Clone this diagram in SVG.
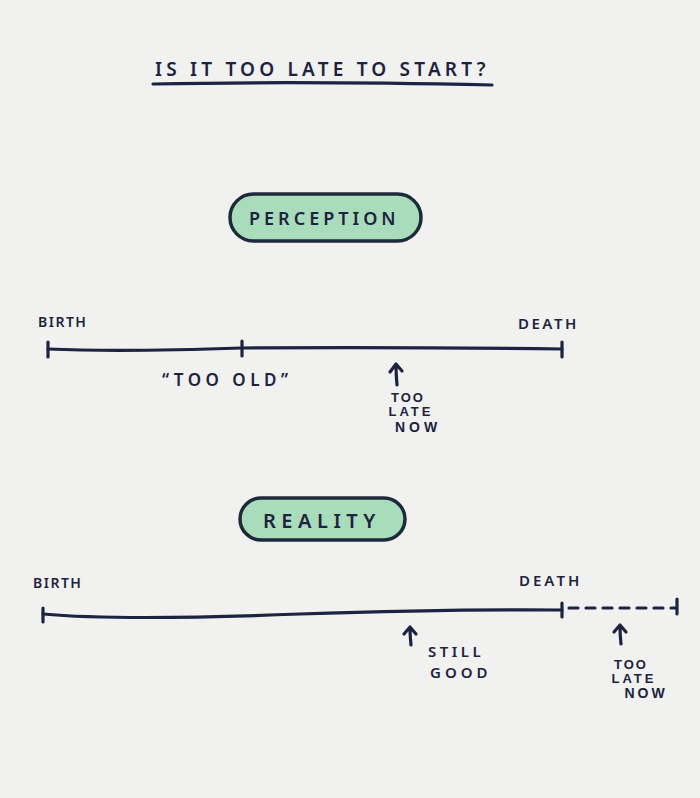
<svg xmlns="http://www.w3.org/2000/svg" width="700" height="798" viewBox="0 0 700 798">
<defs>
<style>
.t{font-family:"Noto Sans","DejaVu Sans",sans-serif;fill:#1d2340;font-weight:600}
.s{font-family:"Liberation Sans",Arial,sans-serif;fill:#1d2340;font-weight:bold;text-anchor:middle}
.ln{stroke:#1d2340;stroke-width:3.2;fill:none;stroke-linecap:round;stroke-linejoin:round}
.pill{fill:#a9dcba;stroke:#1e2a3a;stroke-width:3.5}
</style>
</defs>
<rect width="700" height="798" fill="#f1f2f0"/>
<g id="title">
<text class="t" x="155" y="76" font-size="19" letter-spacing="4.2">IS IT TOO LATE TO START?</text>
<path class="ln" d="M153 84 Q300 81 492 85"/>
</g>
<g id="perception">
<rect class="pill" x="230" y="194" width="191" height="47" rx="23.5"/>
<text class="t" x="249" y="225" font-size="18" letter-spacing="4">PERCEPTION</text>
</g>
<g id="reality">
<rect class="pill" x="240" y="498" width="165" height="42" rx="21"/>
<text class="t" x="263" y="528" font-size="20" letter-spacing="5.5">REALITY</text>
</g>
<g id="connectors">
<path class="ln" d="M48 349 Q120 352 242 348 Q400 347 562 349"/>
<path class="ln" d="M48 342 V357 M242 341 V356 M562 342 V357"/>
<path class="ln" d="M397 385 Q396 374 396 365 M390 372 L396 364 L402 371"/>
<path class="ln" d="M43 614 Q120 621 300 614 Q450 609 562 610"/>
<path class="ln" d="M43 608 V622 M562 603 V617 M677 599 V614"/>
<path class="ln" d="M569 608 H675" stroke-dasharray="9,8" stroke-width="2.5"/>
<path class="ln" d="M411 645 Q410 636 410 628 M404 634 L410 627 L416 634"/>
<path class="ln" d="M621 644 Q620 635 620 626 M614 632 L620 625 L626 632"/>
</g>
<g id="labels">
<text class="t" x="38" y="327" font-size="14" letter-spacing="1.5">BIRTH</text>
<text class="t" x="518" y="329" font-size="15" letter-spacing="2.5">DEATH</text>
<text class="t" x="162" y="386" font-size="17" letter-spacing="4.5">“TOO OLD”</text>
<text class="s" x="408" y="402" font-size="13" letter-spacing="2">TOO</text>
<text class="s" x="411" y="416" font-size="13" letter-spacing="3">LATE</text>
<text class="s" x="418" y="432" font-size="14" letter-spacing="4">NOW</text>
<text class="t" x="33" y="588" font-size="14" letter-spacing="1.5">BIRTH</text>
<text class="t" x="519" y="586" font-size="15" letter-spacing="3">DEATH</text>
<text class="t" x="428" y="657" font-size="15" letter-spacing="3.5">STILL</text>
<text class="t" x="430" y="678" font-size="15" letter-spacing="4">GOOD</text>
<text class="s" x="631" y="669" font-size="13" letter-spacing="2">TOO</text>
<text class="s" x="634" y="683" font-size="13" letter-spacing="3">LATE</text>
<text class="s" x="646" y="698" font-size="14" letter-spacing="3">NOW</text>
</g>
</svg>
